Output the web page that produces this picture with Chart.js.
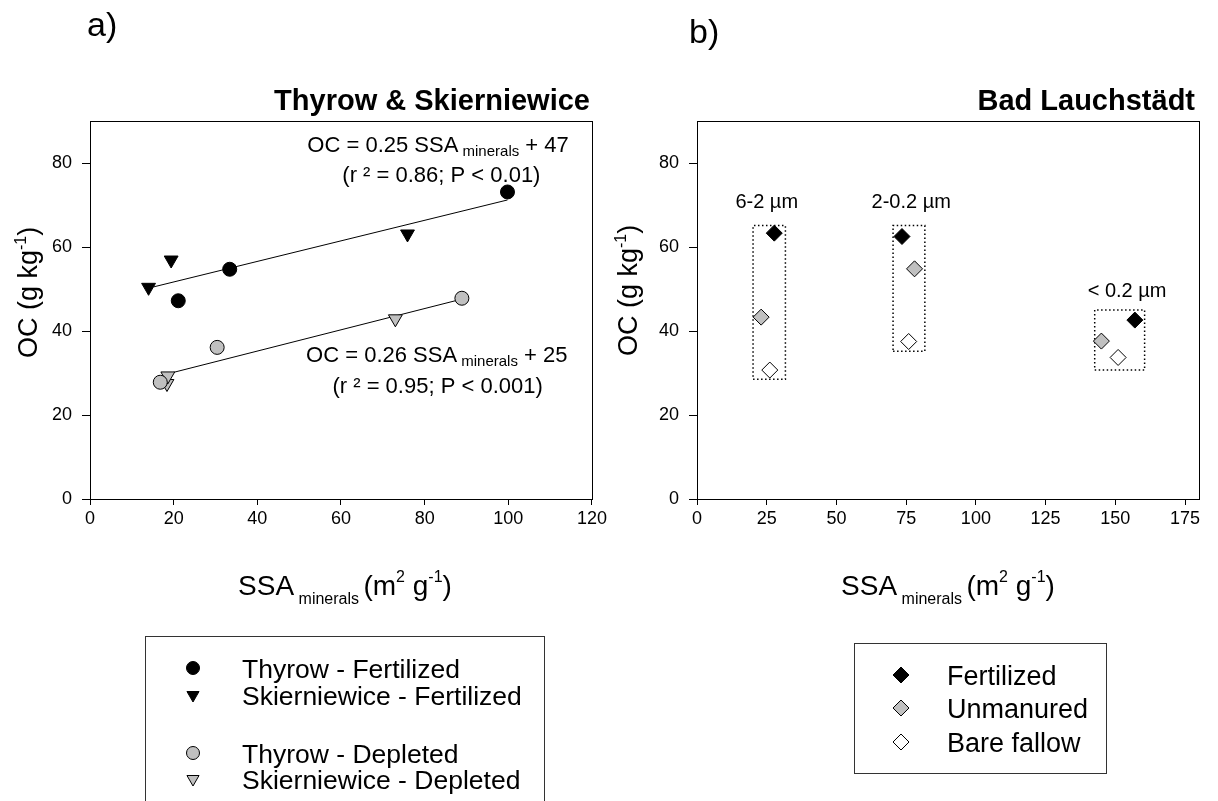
<!DOCTYPE html>
<html>
<head>
<meta charset="utf-8">
<script src="https://cdn.jsdelivr.net/npm/chart.js@4.4.1/dist/chart.umd.min.js"></script>
<style>
  html, body { margin: 0; padding: 0; background: #fff; }
  body { width: 1218px; height: 801px; position: relative; overflow: hidden; }
  canvas { position: absolute; top: 0; }
  #chartA { left: 0; }
  #chartB { left: 610px; }
</style>
</head>
<body>
<canvas id="chartA" width="610" height="801"></canvas>
<canvas id="chartB" width="608" height="801"></canvas>
<script>
const FONT = "'Liberation Sans', Arial, Helvetica, sans-serif";
Chart.defaults.font.family = FONT;
Chart.defaults.color = '#000';

// ---- panel a: Thyrow & Skierniewice ----
const thyrowFertX = [21.1, 33.4, 99.8];
const thyrowFertY = [47.2, 54.7, 73.1];
const skierFertX = [14.0, 19.4, 75.9];
const skierFertY = [50.4, 56.9, 63.1];
const thyrowDeplX = [16.8, 30.4, 88.9];
const thyrowDeplY = [27.8, 36.1, 47.8];
const skierDeplX = [18.4, 18.6, 73.0];
const skierDeplY = [27.5, 29.3, 42.9];
// regression line end points
const fitFertX = [15.2, 99.8];
const fitFertY = [50.5, 71.2];
const fitDeplX = [18.6, 88.5];
const fitDeplY = [29.8, 47.5];

// ---- panel b: Bad Lauchstädt ----
const fractions = ['6-2 µm', '2-0.2 µm', '< 0.2 µm'];
const fertX = [27.7, 73.5, 157.0];
const fertY = [63.3, 62.5, 42.6];
const unmanX = [23.0, 78.0, 145.0];
const unmanY = [43.3, 54.8, 37.6];
const bareX = [26.1, 75.9, 151.0];
const bareY = [30.7, 37.5, 33.7];
// dotted boxes round each fraction
const boxXMin = [20.1, 70.3, 142.6];
const boxXMax = [31.7, 81.7, 160.5];
const boxYMin = [28.5, 35.2, 30.7];
const boxYMax = [65.1, 65.1, 45.0];

// ticks
const yTicks = [0, 20, 40, 60, 80];
const xTicksA = [0, 20, 40, 60, 80, 100, 120];
const xTicksB = [0, 25, 50, 75, 100, 125, 150, 175];

function pts(xs, ys) {
  return xs.map((x, i) => ({ x: x, y: ys[i] }));
}

function boxOutline(i) {
  return [
    { x: boxXMin[i], y: boxYMin[i] }, { x: boxXMax[i], y: boxYMin[i] },
    { x: boxXMax[i], y: boxYMax[i] }, { x: boxXMin[i], y: boxYMax[i] },
    { x: boxXMin[i], y: boxYMin[i] }
  ];
}

// text made of pieces with different size / vertical shift
function drawRich(ctx, parts, x, y, align) {
  let w = 0;
  parts.forEach(p => { ctx.font = p[1] + 'px ' + FONT; w += ctx.measureText(p[0]).width; });
  let cx = align === 'center' ? x - w / 2 : (align === 'right' ? x - w : x);
  ctx.textAlign = 'left';
  parts.forEach(p => {
    ctx.font = p[1] + 'px ' + FONT;
    ctx.fillText(p[0], cx, y + p[2]);
    cx += ctx.measureText(p[0]).width;
  });
}

function drawMarker(ctx, ds, r, x, y) {
  ctx.fillStyle = ds.backgroundColor;
  ctx.strokeStyle = ds.borderColor;
  ctx.lineWidth = 1;
  ctx.beginPath();
  if (ds.pointStyle === 'circle') {
    ctx.arc(x, y, r, 0, Math.PI * 2);
  } else if (ds.pointStyle === 'triangle') {
    const h = r * Math.sin(Math.PI / 3);
    ctx.moveTo(x, y + r);
    ctx.lineTo(x - h, y - r / 2);
    ctx.lineTo(x + h, y - r / 2);
    ctx.closePath();
  } else {
    ctx.moveTo(x, y - r); ctx.lineTo(x + r, y); ctx.lineTo(x, y + r); ctx.lineTo(x - r, y);
    ctx.closePath();
  }
  ctx.fill();
  ctx.stroke();
}

const xTitleParts = [['SSA', 28, 0], [' minerals ', 16, 9], ['(m', 28, 0], ['2', 16, -13], [' g', 28, 0], ['-1', 16, -13], [')', 28, 0]];
const yTitleParts = [['OC (g kg', 27, 0], ['-1', 16, -11], [')', 27, 0]];

const decor = {
  id: 'decor',
  beforeDatasetsDraw(chart) {
    const ctx = chart.ctx, a = chart.chartArea;
    ctx.save();
    ctx.strokeStyle = '#000';
    ctx.lineWidth = 1;
    ctx.strokeRect(Math.round(a.left) + 0.5, Math.round(a.top) + 0.5,
      Math.round(a.right - a.left), Math.round(a.bottom - a.top));
    ctx.restore();
  },
  afterDraw(chart, args, o) {
    const ctx = chart.ctx, a = chart.chartArea;
    const sx = chart.scales.x, sy = chart.scales.y;
    ctx.save();
    ctx.fillStyle = '#000';
    ctx.textBaseline = 'alphabetic';

    ctx.textAlign = 'left';
    ctx.font = '34px ' + FONT;
    ctx.fillText(o.panel, o.panelX, o.panelY);

    ctx.textAlign = 'right';
    ctx.font = 'bold 29px ' + FONT;
    ctx.fillText(o.title, a.right - o.titleInset, 110);

    drawRich(ctx, xTitleParts, o.xTitleX, 595, 'center');

    ctx.save();
    ctx.translate(o.yTitleX, o.yTitleY);
    ctx.rotate(-Math.PI / 2);
    drawRich(ctx, yTitleParts, 0, 0, 'left');
    ctx.restore();

    o.notes.forEach(n => {
      drawRich(ctx, n.parts, sx.getPixelForValue(n.x), sy.getPixelForValue(n.y), 'center');
    });

    const lg = o.legend;
    ctx.strokeStyle = '#333';
    ctx.lineWidth = 1;
    ctx.strokeRect(lg.left + 0.5, lg.top + 0.5, lg.right - lg.left, lg.bottom - lg.top);
    lg.rows.forEach(row => {
      const ds = chart.data.datasets[row.ds];
      drawMarker(ctx, ds, lg.r[row.ds], lg.markerX, row.y);
      ctx.fillStyle = '#000';
      ctx.textAlign = 'left';
      ctx.font = lg.size + 'px ' + FONT;
      ctx.fillText(ds.label, lg.textX, row.y + lg.size * 0.36);
    });
    ctx.restore();
  }
};

function scales(xMax, xTicks, yWidth) {
  return {
    x: {
      type: 'linear', min: 0, max: xMax,
      afterBuildTicks: s => { s.ticks = xTicks.map(v => ({ value: v })); },
      afterFit: s => { s.height = 801 - 499; },
      grid: { drawOnChartArea: false, tickLength: 6, color: '#000' },
      border: { color: '#000', width: 1 },
      ticks: { font: { size: 18 }, padding: 3, maxRotation: 0, color: '#000', callback: v => String(v) }
    },
    y: {
      type: 'linear', min: 0, max: 90,
      afterBuildTicks: s => { s.ticks = yTicks.map(v => ({ value: v })); },
      afterFit: s => { s.width = yWidth; },
      grid: { drawOnChartArea: false, tickLength: 8, color: '#000' },
      border: { color: '#000', width: 1 },
      ticks: { font: { size: 18 }, padding: 10, color: '#000', callback: v => String(v) }
    }
  };
}

const sym = (label, xs, ys, style, r, fill) => ({
  label: label, data: pts(xs, ys), pointStyle: style, pointRadius: r,
  pointRotation: style === 'triangle' ? 180 : 0,
  backgroundColor: fill, borderColor: '#000', borderWidth: 1, order: 0
});

const fitLine = (xs, ys) => ({
  label: 'fit', data: pts(xs, ys), showLine: true, pointRadius: 0,
  borderColor: '#000', borderWidth: 1, backgroundColor: '#000', order: 1
});

new Chart(document.getElementById('chartA'), {
  type: 'scatter',
  data: {
    datasets: [
      sym('Thyrow - Fertilized', thyrowFertX, thyrowFertY, 'circle', 7, '#000'),
      sym('Skierniewice - Fertilized', skierFertX, skierFertY, 'triangle', 8, '#000'),
      sym('Thyrow - Depleted', thyrowDeplX, thyrowDeplY, 'circle', 7, '#c0c0c0'),
      sym('Skierniewice - Depleted', skierDeplX, skierDeplY, 'triangle', 8, '#c0c0c0'),
      fitLine(fitFertX, fitFertY),
      fitLine(fitDeplX, fitDeplY)
    ]
  },
  options: {
    responsive: false,
    animation: false,
    events: [],
    layout: { padding: { top: 121, right: 18, bottom: 0, left: 0 } },
    scales: scales(120, xTicksA, 90),
    plugins: {
      legend: { display: false },
      tooltip: { enabled: false },
      decor: {
        panel: 'a)', panelX: 87, panelY: 36,
        title: 'Thyrow & Skierniewice', titleInset: 2,
        xTitleX: 345, yTitleX: 37, yTitleY: 358,
        notes: [
          { x: 83.2, y: 82.7, parts: [['OC = 0.25 SSA', 22, 0], [' minerals', 15, 4], [' + 47', 22, 0]] },
          { x: 84.0, y: 75.5, parts: [['(r ² = 0.86; P < 0.01)', 22, 0]] },
          { x: 82.9, y: 32.6, parts: [['OC = 0.26 SSA', 22, 0], [' minerals', 15, 4], [' + 25', 22, 0]] },
          { x: 83.1, y: 25.2, parts: [['(r ² = 0.95; P < 0.001)', 22, 0]] }
        ],
        legend: {
          left: 145, top: 636, right: 544, bottom: 840, markerX: 193, textX: 242, size: 26.5,
          r: [6.5, 7, 6.5, 7],
          rows: [{ ds: 0, y: 668 }, { ds: 1, y: 695 }, { ds: 2, y: 753 }, { ds: 3, y: 779 }]
        }
      }
    }
  },
  plugins: [decor]
});

const boxSets = boxXMin.map((_, i) => ({
  label: fractions[i], data: boxOutline(i), showLine: true, pointRadius: 0,
  borderColor: '#000', borderWidth: 1.5, borderDash: [1.5, 2.5], order: 2
}));

new Chart(document.getElementById('chartB'), {
  type: 'scatter',
  data: {
    datasets: [
      sym('Fertilized', fertX, fertY, 'rectRot', 8, '#000'),
      sym('Unmanured', unmanX, unmanY, 'rectRot', 8, '#c0c0c0'),
      sym('Bare fallow', bareX, bareY, 'rectRot', 8, '#fff')
    ].concat(boxSets)
  },
  options: {
    responsive: false,
    animation: false,
    events: [],
    layout: { padding: { top: 121, right: 19, bottom: 0, left: 0 } },
    scales: scales(180, xTicksB, 87),
    plugins: {
      legend: { display: false },
      tooltip: { enabled: false },
      decor: {
        panel: 'b)', panelX: 79, panelY: 43,
        title: 'Bad Lauchstädt', titleInset: 4,
        xTitleX: 338, yTitleX: 27, yTitleY: 356,
        notes: [
          { x: 25.0, y: 69.2, parts: [[fractions[0], 20, 0]] },
          { x: 76.8, y: 69.3, parts: [[fractions[1], 20, 0]] },
          { x: 154.2, y: 48.2, parts: [[fractions[2], 20, 0]] }
        ],
        legend: {
          left: 244, top: 643, right: 496, bottom: 773, markerX: 291, textX: 337, size: 27,
          r: [8, 8, 8],
          rows: [{ ds: 0, y: 675 }, { ds: 1, y: 708 }, { ds: 2, y: 742 }]
        }
      }
    }
  },
  plugins: [decor]
});
</script>
</body>
</html>
